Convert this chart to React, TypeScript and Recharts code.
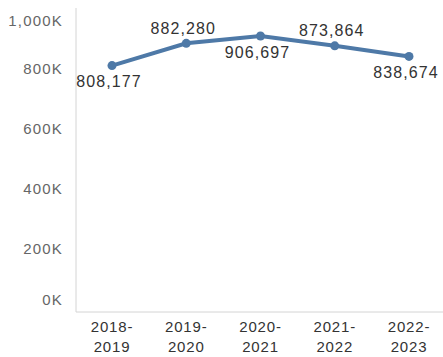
import React from 'react';
import { LineChart, Line, XAxis, YAxis, LabelList } from 'recharts';

const years = ['2018-2019', '2019-2020', '2020-2021', '2021-2022', '2022-2023'];
const enrollment = [808177, 882280, 906697, 873864, 838674];
const yTicks = [0, 200000, 400000, 600000, 800000, 1000000];
// tableau-style label placement, alternating to avoid overlaps
const labelSide = ['below', 'above', 'below', 'above', 'below'];

const data = years.map((y, i) => ({ year: y, value: enrollment[i] }));

const FONT = '"Liberation Sans", Arial, sans-serif';
const BLUE = '#4e79a7';

const fmtK = (v: number) => `${(v / 1000).toLocaleString('en-US')}K`;

const YTick = (props: any) => {
  const { x, y, payload } = props;
  // keep edge labels inside the pane like tableau does
  const cy = Math.min(Math.max(y, 20), 299);
  return (
    <text x={x} y={cy} textAnchor="end" dominantBaseline="central"
      fill="#666" fontSize={15} fontFamily={FONT} letterSpacing={1.2}>
      {fmtK(payload.value)}
    </text>
  );
};

const XTick = (props: any) => {
  const { x, y, payload } = props;
  const [a, b] = String(payload.value).split('-');
  return (
    <text x={x} y={y} textAnchor="middle" fill="#333" fontSize={15}
      fontFamily={FONT} letterSpacing={0.8}>
      <tspan x={x} dy={20}>{a}-</tspan>
      <tspan x={x} dy={20}>{b}</tspan>
    </text>
  );
};

const ValueLabel = (props: any) => {
  const { x, y, value, index } = props;
  const above = labelSide[index] === 'above';
  return (
    <text x={x - 3} y={above ? y - 15 : y + 16} textAnchor="middle"
      dominantBaseline="central" fill="#333" fontSize={16}
      fontFamily={FONT} letterSpacing={1.1}>
      {Number(value).toLocaleString('en-US')}
    </text>
  );
};

export default function App() {
  return (
    <div style={{ position: 'absolute', left: 0, top: 0, width: 443, height: 357, overflow: 'hidden', background: '#fff' }}>
      <LineChart width={445} height={357} data={data}
        margin={{ top: 8, right: 0, bottom: 0, left: 0 }}>
        <XAxis dataKey="year" height={45} padding={{ left: 36, right: 36 }}
          axisLine={{ stroke: '#d4d4d4' }} tickLine={false} tickSize={0}
          tickMargin={0} tick={<XTick />} interval={0} />
        <YAxis width={76} domain={[-13000, 1000000]} ticks={yTicks}
          allowDataOverflow axisLine={{ stroke: '#d4d4d4' }} tickLine={false}
          tickSize={0} tickMargin={13} tick={<YTick />} />
        <Line type="linear" dataKey="value" stroke={BLUE} strokeWidth={4}
          dot={{ r: 4.5, fill: BLUE, stroke: BLUE, strokeWidth: 0 }}
          activeDot={false} isAnimationActive={false}>
          <LabelList dataKey="value" content={<ValueLabel />} />
        </Line>
      </LineChart>
    </div>
  );
}
